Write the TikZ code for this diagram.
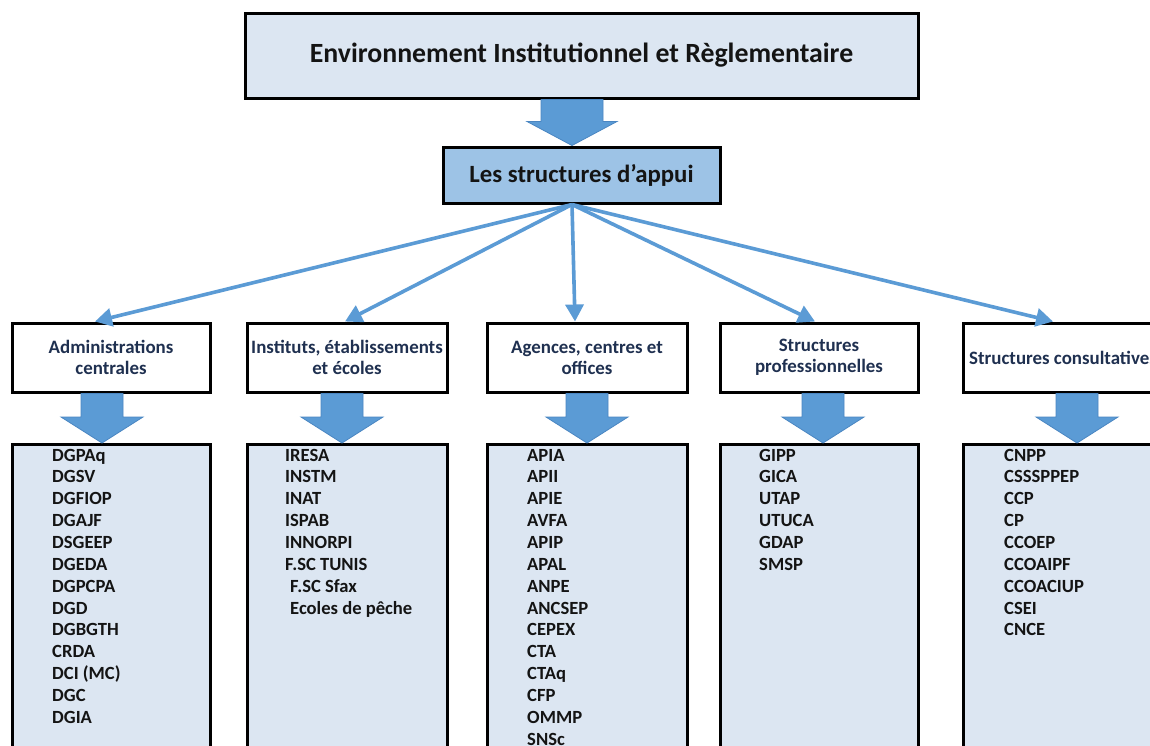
\documentclass[tikz,border=0pt]{standalone}
\usepackage{fontspec}
\setmainfont{Carlito}
\usetikzlibrary{arrows.meta,calc}
\definecolor{lightfill}{HTML}{DCE6F2}
\definecolor{midfill}{HTML}{9DC3E6}
\definecolor{arrowblue}{HTML}{5B9BD5}
\definecolor{arrowedge}{HTML}{4A86C2}
\definecolor{cattext}{HTML}{1F3050}
\definecolor{itemtext}{HTML}{141414}
\tikzset{
  boxbase/.style={draw=black, line width=3pt, inner sep=0pt},
  topbox/.style={boxbase, fill=lightfill, minimum width=673pt, minimum height=85pt,
    font=\bfseries\fontsize{27.8}{32}\selectfont, text=itemtext},
  appuibox/.style={boxbase, fill=midfill, minimum width=277pt, minimum height=56pt,
    font=\bfseries\fontsize{24.8}{28}\selectfont, text=itemtext},
  catbox/.style={boxbase, fill=white, minimum height=69pt, align=center,
    font=\bfseries\fontsize{18.9}{21}\selectfont, text=cattext},
  listbox/.style={boxbase, fill=lightfill, minimum height=340pt, anchor=north},
  item/.style={anchor=base west, inner sep=0pt, font=\bfseries\fontsize{18.6}{21}\selectfont, text=itemtext},
  conn/.style={draw=arrowblue, line width=3.6pt, -{Triangle[length=17pt,width=18pt]}},
  blockarr/.style={fill=arrowblue, draw=arrowedge, line width=0.8pt}
}
\newcommand{\blockarrow}[5]{%
  \path[blockarr] let \p1=#1, \p2=#2 in
    (\x2-#3,\y1) -- (\x2+#3,\y1) -- (\x2+#3,\y2+#5) -- (\x2+#4,\y2+#5)
    -- (\x2,\y2) -- (\x2-#4,\y2+#5) -- (\x2-#3,\y2+#5) -- cycle;}
\begin{document}
\begin{tikzpicture}[x=1pt,y=-1pt]
\useasboundingbox[fill=white] (0,0) rectangle (1150,745);
\begin{scope}
\clip (0,0) rectangle (1150,745);
% top boxes
\node[topbox] (env) at (581.5,55.5) {Environnement Institutionnel et Règlementaire};
\node[appuibox] (appui) at (581.5,175) {Les structures d’appui};
\blockarrow{($(env.south)+(-9.5,0)$)}{($(appui.north)+(-9.5,0)$)}{31pt}{45pt}{24pt}
% categories
\node[catbox, minimum width=198pt] (cat1) at (111,357.5) {Administrations\\centrales};
\node[catbox, minimum width=200pt] (cat2) at (347,357.5) {Instituts, établissements\\et écoles};
\node[catbox, minimum width=200pt] (cat3) at (587,357.5) {Agences, centres et\\offices};
\node[catbox, minimum width=198pt] (cat4) at (819,357.5) {Structures\\professionnelles};
\node[catbox, minimum width=200pt] (cat5) at (1063,357.5) {Structures consultatives};
% connectors
\coordinate (hub) at ($(appui.south)+(-9.5,0)$);
\draw[conn] (hub) -- ($(cat1.north)+(-16,0)$);
\draw[conn] (hub) -- ($(cat2.north)+(-2,0)$);
\draw[conn] (hub) -- ($(cat3.north)+(-12,0)$);
\draw[conn] (hub) -- ($(cat4.north)+(-4,0)$);
\draw[conn] (hub) -- ($(cat5.north)+(-10,0)$);
% list boxes
\node[listbox, minimum width=198pt] (list1) at (111,443) {};
\node[listbox, minimum width=200pt] (list2) at (347,443) {};
\node[listbox, minimum width=200pt] (list3) at (587,443) {};
\node[listbox, minimum width=198pt] (list4) at (819,443) {};
\node[listbox, minimum width=200pt] (list5) at (1063,443) {};
% block arrows
\blockarrow{($(cat1.south)+(-9,0)$)}{($(list1.north)+(-9,0)$)}{21pt}{41pt}{26pt}
\blockarrow{($(cat2.south)+(-5,0)$)}{($(list2.north)+(-5,0)$)}{21pt}{41pt}{26pt}
\blockarrow{($(cat3.south)+(0,0)$)}{($(list3.north)+(0,0)$)}{21pt}{41pt}{26pt}
\blockarrow{($(cat4.south)+(4,0)$)}{($(list4.north)+(4,0)$)}{21pt}{41pt}{26pt}
\blockarrow{($(cat5.south)+(14,0)$)}{($(list5.north)+(14,0)$)}{21pt}{41pt}{26pt}
% items
\foreach \t [count=\i] in {DGPAq,DGSV,DGFIOP,DGAJF,DSGEEP,DGEDA,DGPCPA,DGD,DGBGTH,CRDA,DCI (MC),DGC,DGIA}
  \node[item] (ia\i) at (52,{461+21.86*(\i-1)}) {\t};
\foreach \t [count=\i] in {IRESA,INSTM,INAT,ISPAB,INNORPI,F.SC TUNIS}
  \node[item] (ib\i) at (285,{461+21.86*(\i-1)}) {\t};
\node[item] (ib7) at (290,{461+21.86*6}) {F.SC Sfax};
\node[item] (ib8) at (290,{461+21.86*7}) {Ecoles de pêche};
\foreach \t [count=\i] in {APIA,APII,APIE,AVFA,APIP,APAL,ANPE,ANCSEP,CEPEX,CTA,CTAq,CFP,OMMP,SNSc}
  \node[item] (ic\i) at (527,{461+21.86*(\i-1)}) {\t};
\foreach \t [count=\i] in {GIPP,GICA,UTAP,UTUCA,GDAP,SMSP}
  \node[item] (id\i) at (759,{461+21.86*(\i-1)}) {\t};
\foreach \t [count=\i] in {CNPP,CSSSPPEP,CCP,CP,CCOEP,CCOAIPF,CCOACIUP,CSEI,CNCE}
  \node[item] (ie\i) at (1004,{461+21.86*(\i-1)}) {\t};
\end{scope}
\end{tikzpicture}
\end{document}
